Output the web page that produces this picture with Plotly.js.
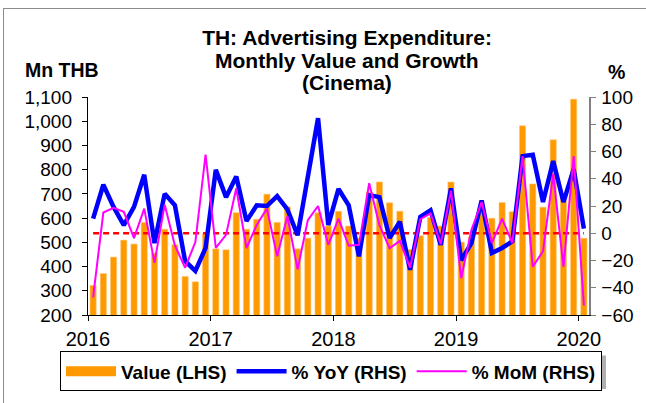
<!DOCTYPE html>
<html>
<head>
<meta charset="utf-8">
<script src="https://cdn.plot.ly/plotly-3.0.1.min.js"></script>
<style>
html,body{margin:0;padding:0;background:#fff;}
#wrap{position:relative;width:646px;height:403px;overflow:hidden;}
#chart{width:646px;height:403px;}
#frame{position:absolute;left:3px;top:8px;width:700px;height:500px;border-left:1.5px solid #8c8c8c;border-top:1.5px solid #8c8c8c;pointer-events:none;}
</style>
</head>
<body>
<div id="wrap"><div id="chart"></div><div id="frame"></div></div>
<script>
// Months Jan 2016 .. Jan 2020
var months = ["2016-01","2016-02","2016-03","2016-04","2016-05","2016-06","2016-07","2016-08","2016-09","2016-10","2016-11","2016-12",
"2017-01","2017-02","2017-03","2017-04","2017-05","2017-06","2017-07","2017-08","2017-09","2017-10","2017-11","2017-12",
"2018-01","2018-02","2018-03","2018-04","2018-05","2018-06","2018-07","2018-08","2018-09","2018-10","2018-11","2018-12",
"2019-01","2019-02","2019-03","2019-04","2019-05","2019-06","2019-07","2019-08","2019-09","2019-10","2019-11","2019-12",
"2020-01"];
// Value (Mn THB, LHS)
var valueLHS = [322,371,439,509,493,582,455,554,490,359,337,535,
473,469,622,554,595,699,582,647,473,517,622,567,
628,567,517,707,749,663,628,470,527,603,567,749,
501,522,640,599,664,626,981,741,645,923,695,1091,
517];
// % YoY (RHS)
var yoyRHS = [10.8,35.6,19.3,6,19.3,42.9,-7.2,28.9,20.5,-20.5,-27.7,-10.8,
46.5,26.5,41.7,8.9,20.5,20,27.3,17.5,-1.5,42,84.4,6,
32.5,20.5,-16.9,28,26.5,-3.5,8.4,-26.8,12.1,16.9,-8.6,33,
-19.8,-7.2,24.1,-14.5,-10.8,-6,56.6,57.6,22.9,53,22.9,47,
3.4];
// % MoM (RHS)
var momRHS = [-47,15.2,18.6,15.7,-3.6,18.1,-21.7,21,-9,-25.3,-6.5,57.8,
-10.8,-1.2,33,-10.8,6,18.1,-16.9,12.5,-26.5,9.6,20,-8.5,
10.8,-9.2,-8.5,36.7,6,-11,-5.6,-25.3,10.3,14.5,-8,31.3,
-33,2.4,22.9,-7.2,10.8,-7.2,56.6,-24.6,-13.2,43.4,-24.6,56.6,
-53];
var yearLabels = ["2016","2017","2018","2019","2020"];
var titleLines = ["TH: Advertising Expenditure:", "Monthly Value and Growth", "(Cinema)"];
var zeroRef = 0;

var xPos = months.map(function(m, i){ return i + 0.5; });
var yearTicks = yearLabels.map(function(y){ return months.indexOf(y + "-01"); });

var FONT = "Arial, 'Liberation Sans', sans-serif";
var ORANGE = "#FF9900";

var traces = [
  {type:"scatter", mode:"lines", x:[null], y:[null], name:"Value (LHS)", legendgroup:"v", yaxis:"y",
   line:{color:ORANGE, width:10}, hoverinfo:"skip"},
  {type:"bar", x:xPos, y:valueLHS, customdata:months, name:"Value (LHS)", showlegend:false, legendgroup:"v",
   marker:{color:ORANGE, line:{color:"#FFC266", width:0.6}}, width:0.6, yaxis:"y",
   hovertemplate:"%{customdata}: %{y}<extra></extra>"},
  {type:"scatter", mode:"lines", x:[xPos[0], xPos[xPos.length-1]], y:[zeroRef, zeroRef], yaxis:"y2",
   line:{color:"#FF0000", width:2.5, dash:"6px,4px"}, showlegend:false, hoverinfo:"skip"},
  {type:"scatter", mode:"lines", x:xPos, y:yoyRHS, customdata:months, name:"% YoY (RHS)", yaxis:"y2",
   line:{color:"#0000FF", width:4.5}, hovertemplate:"%{customdata}: %{y}%<extra></extra>"},
  {type:"scatter", mode:"lines", x:xPos, y:momRHS, customdata:months, name:"% MoM (RHS)", yaxis:"y2",
   line:{color:"#FF00FF", width:2}, hovertemplate:"%{customdata}: %{y}%<extra></extra>"}
];

function py(pix){ return (318 - pix) / 221; }
function px(pix){ return (pix - 88) / 501; }

var layout = {
  width:646, height:403,
  margin:{l:88, r:57, t:97, b:85},
  paper_bgcolor:"#fff", plot_bgcolor:"#fff",
  font:{family:FONT, color:"#000", size:16},
  showlegend:true,
  title:{text:"<b>" + titleLines[0] + "</b>",
         font:{family:FONT, size:21, color:"#000"}, x:347/646, xanchor:"center", xref:"container",
         y:1 - 38/403, yanchor:"middle", yref:"container"},
  xaxis:{range:[0, months.length], tickmode:"array", tickvals:yearTicks, ticktext:yearLabels,
         showline:true, linecolor:"#000", linewidth:1.2, ticks:"outside", ticklen:5, tickcolor:"#000",
         showgrid:false, zeroline:false, tickfont:{size:20, family:FONT}, ticklabelstandoff:1},
  yaxis:{range:[200,1100], dtick:100, tickformat:",d", showline:true, linecolor:"#000", linewidth:1.2,
         ticks:"outside", ticklen:5, tickcolor:"#000", showgrid:false, zeroline:false,
         tickfont:{size:19, family:FONT}, ticklabelstandoff:6},
  yaxis2:{range:[-60,100], dtick:20, overlaying:"y", side:"right", showline:true, linecolor:"#808080", linewidth:1.5,
          ticks:"outside", ticklen:5, tickcolor:"#808080", showgrid:false, zeroline:false,
          tickfont:{size:19, family:FONT}, ticklabelstandoff:2},
  legend:{orientation:"h", x:px(60), xanchor:"left", y:py(355), yanchor:"top",
          bordercolor:"#000", borderwidth:1, bgcolor:"#fff", itemwidth:50,
          font:{family:FONT, size:19, color:"#000", weight:"bold"}, traceorder:"normal", tracegroupgap:0},
  shapes:[
    {type:"rect", xref:"paper", yref:"paper", x0:px(62), x1:px(606), y0:py(393), y1:py(359),
     fillcolor:"#b0b0b0", line:{width:0}, layer:"above"}
  ],
  annotations:[
    {text:"<b>" + titleLines[1] + "</b>", xref:"paper", yref:"paper", x:px(347), y:py(60), showarrow:false,
     font:{family:FONT, size:21, color:"#000"}, xanchor:"center", yanchor:"middle"},
    {text:"<b>" + titleLines[2] + "</b>", xref:"paper", yref:"paper", x:px(347), y:py(82), showarrow:false,
     font:{family:FONT, size:21, color:"#000"}, xanchor:"center", yanchor:"middle"},
    {text:"<b>Mn THB</b>", xref:"paper", yref:"paper", x:px(62), y:py(70), showarrow:false,
     font:{family:FONT, size:19.5, color:"#000"}, xanchor:"center", yanchor:"middle"},
    {text:"<b>%</b>", xref:"paper", yref:"paper", x:px(616), y:py(72), showarrow:false,
     font:{family:FONT, size:19.5, color:"#000"}, xanchor:"center", yanchor:"middle"}
  ]
};

Plotly.newPlot("chart", traces, layout, {displayModeBar:false, staticPlot:true});
</script>
</body>
</html>
